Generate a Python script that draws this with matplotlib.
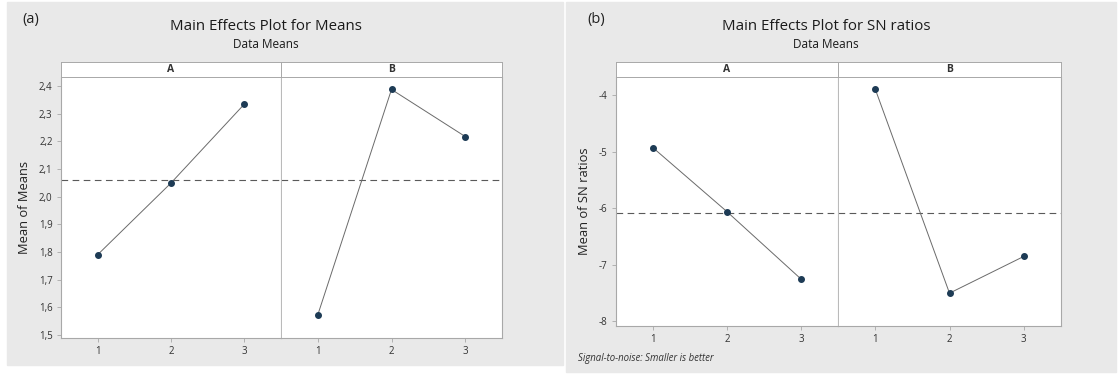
import matplotlib
matplotlib.use("Agg")
import matplotlib.pyplot as plt
from matplotlib.patches import Rectangle

plt.rcParams['font.family'] = ['Open Sans', 'DejaVu Sans']

levels = [1, 2, 3]
factors = ['A', 'B']

# Main effects for means
means_A = [1.790, 2.049, 2.334]
means_B = [1.573, 2.387, 2.217]
means_ticks = [1.5, 1.6, 1.7, 1.8, 1.9, 2.0, 2.1, 2.2, 2.3, 2.4]

# Main effects for SN ratios
sn_A = [-4.93, -6.06, -7.25]
sn_B = [-3.89, -7.50, -6.85]
sn_ticks = [-8, -7, -6, -5, -4]

W, H = 1120, 375
fig = plt.figure(figsize=(W / 100, H / 100), dpi=100)
fig.patch.set_facecolor('white')

def box(x0, y0, x1, y1):
    # pixel box (top-left origin) -> figure fraction
    return [x0 / W, 1 - y1 / H, (x1 - x0) / W, (y1 - y0) / H]

gray = '#e9e9e9'
fig.patches.append(Rectangle((7 / W, 1 - 365 / H), (563 - 7) / W, (365 - 2) / H,
                             transform=fig.transFigure, color=gray, zorder=-5))
fig.patches.append(Rectangle((566 / W, 1 - 372 / H), (1116 - 566) / W, (372 - 2) / H,
                             transform=fig.transFigure, color=gray, zorder=-5))

spine_c = '#a8a8a8'
mark_c = '#1d3b55'
line_c = '#6a6a6a'


def panel(xs, top, bottom, data, ylim, yticks, ylabel, fmt):
    grand = sum(sum(d) for d in data) / sum(len(d) for d in data)
    axes = []
    for i, (x0, x1) in enumerate(xs):
        ax = fig.add_axes(box(x0, top, x1, bottom))
        ax.set_facecolor('white')
        ax.plot(levels, data[i], color=line_c, lw=0.7, zorder=2)
        ax.plot(levels, data[i], 'o', color=mark_c, ms=4, zorder=3)
        ax.axhline(grand, color='#5a5a5a', lw=0.8, ls=(0, (6, 4)), zorder=1)
        ax.set_xlim(0.5, 3.5)
        ax.set_ylim(*ylim)
        ax.set_xticks(levels)
        ax.set_xticklabels([str(l) for l in levels], fontsize=7, color='#333333')
        ax.set_yticks(yticks)
        for s in ax.spines.values():
            s.set_color(spine_c)
            s.set_linewidth(0.8)
        ax.spines['top'].set_visible(False)
        ax.tick_params(axis='both', length=3, width=0.6, color=spine_c, pad=3)
        if i == 0:
            ax.set_yticklabels([fmt(v) for v in yticks], fontsize=7, color='#333333')
            ax.set_ylabel(ylabel, fontsize=9.3, color='#222222', labelpad=6)
        else:
            ax.tick_params(axis='y', left=False, labelleft=False)
            ax.spines['left'].set_color('#b8b8b8')
            ax.spines['left'].set_linewidth(0.7)
        sx = fig.add_axes(box(x0, 62, x1, top))
        sx.set_xticks([])
        sx.set_yticks([])
        sx.set_facecolor('white')
        for s in sx.spines.values():
            s.set_color(spine_c)
            s.set_linewidth(0.7)
        sx.text(0.5, 0.5, factors[i], ha='center', va='center', fontsize=7.5,
                fontweight='bold', color='#333333', transform=sx.transAxes)
        axes.append(ax)
    return axes


panel([(61, 281), (281, 502)], 77, 338, [means_A, means_B], (1.489, 2.432),
      means_ticks, 'Mean of Means', lambda v: ('%.1f' % v).replace('.', ','))
panel([(616, 838), (838, 1061)], 77, 326, [sn_A, sn_B], (-8.08, -3.68),
      sn_ticks, 'Mean of SN ratios', lambda v: '%d' % v)

fig.text(266 / W, 1 - 27 / H, 'Main Effects Plot for Means', ha='center', va='center',
         fontsize=10.8, color='#1a1a1a', fontweight='medium')
fig.text(266 / W, 1 - 45 / H, 'Data Means', ha='center', va='center',
         fontsize=8.5, color='#1a1a1a')
fig.text(826 / W, 1 - 27 / H, 'Main Effects Plot for SN ratios', ha='center', va='center',
         fontsize=10.8, color='#1a1a1a', fontweight='medium')
fig.text(826 / W, 1 - 45 / H, 'Data Means', ha='center', va='center',
         fontsize=8.5, color='#1a1a1a')
fig.text(22 / W, 1 - 20 / H, '(a)', ha='left', va='center', fontsize=10.5, color='#222222')
fig.text(587 / W, 1 - 20 / H, '(b)', ha='left', va='center', fontsize=10.5, color='#222222')
fig.text(578 / W, 1 - 359 / H, 'Signal-to-noise: Smaller is better', ha='left', va='center',
         fontsize=6.9, style='italic', color='#333333')

fig.savefig('out.png', dpi=100)
